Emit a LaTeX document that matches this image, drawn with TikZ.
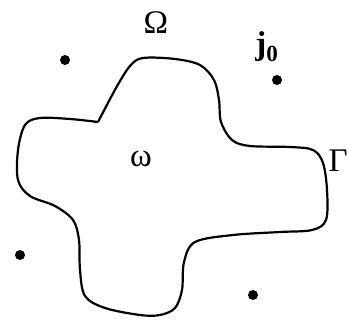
\documentclass[tikz,border=0pt]{standalone}
\usepackage{fontspec}
\setmainfont{Liberation Serif}
\usetikzlibrary{positioning}

\begin{document}
\begin{tikzpicture}[x=1pt, y=-1pt]

\tikzset{
  spot/.style={
    circle,
    fill=black,
    inner sep=0pt,
    minimum size=10pt
  },
  lbl/.style={
    font=\fontsize{33}{37}\selectfont,
    inner sep=0pt
  },
  rim/.style={
    line width=2.2pt,
    line join=round
  }
}

\useasboundingbox (0,0) rectangle (348,321);

% NODES ----------------------------------------------------------

% Points outside the domain
\node[spot] (p1) at (65,  60)  {};
\node[spot] (p2) at (277, 80)  {};
\node[spot] (p3) at (20,  255) {};
\node[spot] (p4) at (253, 295) {};

% Labels
\node[lbl] (Omega) at (156, 23)  {Ω};
\node[lbl] (jzero) at (267, 47)  {\textbf{j\textsubscript{0}}};
\node[lbl] (omega) at (141, 159) {ω};
\node[lbl, anchor=east] (Gamma) at (348, 161) {Γ};

% DRAWS ---------------------------------------------------------

% Boundary of the domain, corner at the cusp
\draw[rim] plot[smooth, tension=0.55] coordinates {
  (98,122) (116,88) (130,66) (143,58) (175,59) (200,65) (214,80)
  (219,100) (221,122) (232,140) (250,146) (290,147) (313,150)
  (323,163) (327,190) (326,220) (312,230) (280,232) (233,235)
  (195,242) (184,262) (182,290) (175,308) (160,315) (140,315)
  (105,308) (85,296) (80,270) (79,240) (73,220) (55,206) (30,196)
  (18,180) (18,150) (25,125) (40,118) (70,119) (98,122)
};

\end{tikzpicture}
\end{document}
